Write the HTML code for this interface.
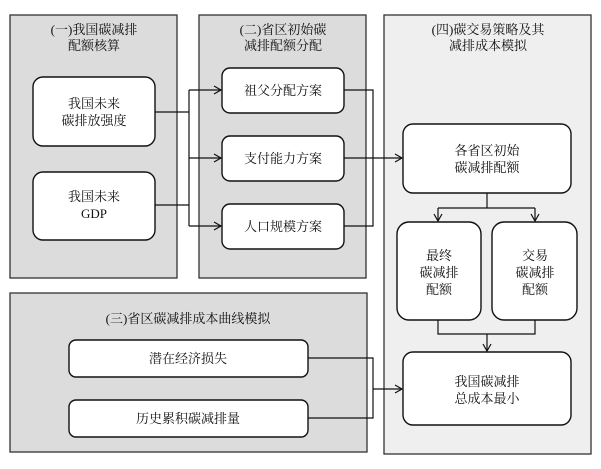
<!DOCTYPE html>
<html><head><meta charset="utf-8"><style>
body{margin:0;background:#fff;}
svg text{font-family:"Liberation Serif","Noto Serif CJK SC",serif;font-size:13px;fill:#111;text-anchor:middle;}
</style></head><body>
<svg width="601" height="464" viewBox="0 0 601 464" xmlns="http://www.w3.org/2000/svg">
<defs><marker id="a" markerWidth="10" markerHeight="10" refX="8" refY="5" orient="auto" markerUnits="userSpaceOnUse"><path d="M1,1 L8,5 L1,9" fill="none" stroke="#111" stroke-width="1.2"/></marker></defs>
<g stroke="#333" stroke-width="1.3">
<rect x="10" y="15" width="167" height="263" fill="#dcdcdc"/>
<rect x="199" y="15" width="167" height="263" fill="#dcdcdc"/>
<rect x="10" y="293" width="357" height="159" fill="#dcdcdc"/>
<rect x="384" y="15" width="207" height="439" fill="#efefef"/>
</g>
<g stroke="#111" stroke-width="1.4" fill="#fff">
<rect x="33" y="77" width="122" height="69" rx="10"/>
<rect x="33" y="172" width="122" height="68" rx="10"/>
<rect x="222" y="68" width="122" height="45" rx="8"/>
<rect x="222" y="136" width="122" height="45" rx="8"/>
<rect x="222" y="204" width="122" height="45" rx="8"/>
<rect x="403" y="124" width="168" height="69" rx="10"/>
<rect x="397" y="222" width="84" height="98" rx="12"/>
<rect x="492" y="222" width="85" height="98" rx="12"/>
<rect x="403" y="352" width="168" height="73" rx="10"/>
<rect x="69" y="340" width="239" height="37" rx="7"/>
<rect x="69" y="400" width="239" height="37" rx="7"/>
</g>
<g stroke="#111" stroke-width="1.2" fill="none">
<path d="M155,112 H189 M155,205 H189 M189,90 V226"/>
<path d="M189,90 H221" marker-end="url(#a)"/>
<path d="M189,158 H221" marker-end="url(#a)"/>
<path d="M189,226 H221" marker-end="url(#a)"/>
<path d="M344,90 H373 V226 H344 M344,158 H373"/>
<path d="M373,158 H402" marker-end="url(#a)"/>
<path d="M487,193 V208 M438,208 H535"/>
<path d="M438,208 V221" marker-end="url(#a)"/>
<path d="M535,208 V221" marker-end="url(#a)"/>
<path d="M438,320 V334 H535 V320"/>
<path d="M487,334 V351" marker-end="url(#a)"/>
<path d="M308,358 H373 V418 H308"/>
<path d="M373,389 H402" marker-end="url(#a)"/>
</g>
<text x="94" y="34">(一)我国碳减排</text><text x="94" y="50">配额核算</text>
<text x="283" y="34">(二)省区初始碳</text><text x="283" y="50">减排配额分配</text>
<text x="488" y="34">(四)碳交易策略及其</text><text x="488" y="50">减排成本模拟</text>
<text x="188" y="323">(三)省区碳减排成本曲线模拟</text>
<text x="94" y="108">我国未来</text><text x="94" y="125">碳排放强度</text>
<text x="94" y="201">我国未来</text><text x="94" y="218">GDP</text>
<text x="283" y="95">祖父分配方案</text>
<text x="283" y="163">支付能力方案</text>
<text x="283" y="231">人口规模方案</text>
<text x="487" y="155">各省区初始</text><text x="487" y="172">碳减排配额</text>
<text x="439" y="260">最终</text><text x="439" y="277">碳减排</text><text x="439" y="294">配额</text>
<text x="535" y="260">交易</text><text x="535" y="277">碳减排</text><text x="535" y="294">配额</text>
<text x="487" y="386">我国碳减排</text><text x="487" y="403">总成本最小</text>
<text x="188" y="363">潜在经济损失</text>
<text x="188" y="423">历史累积碳减排量</text>
</svg>
</body></html>
